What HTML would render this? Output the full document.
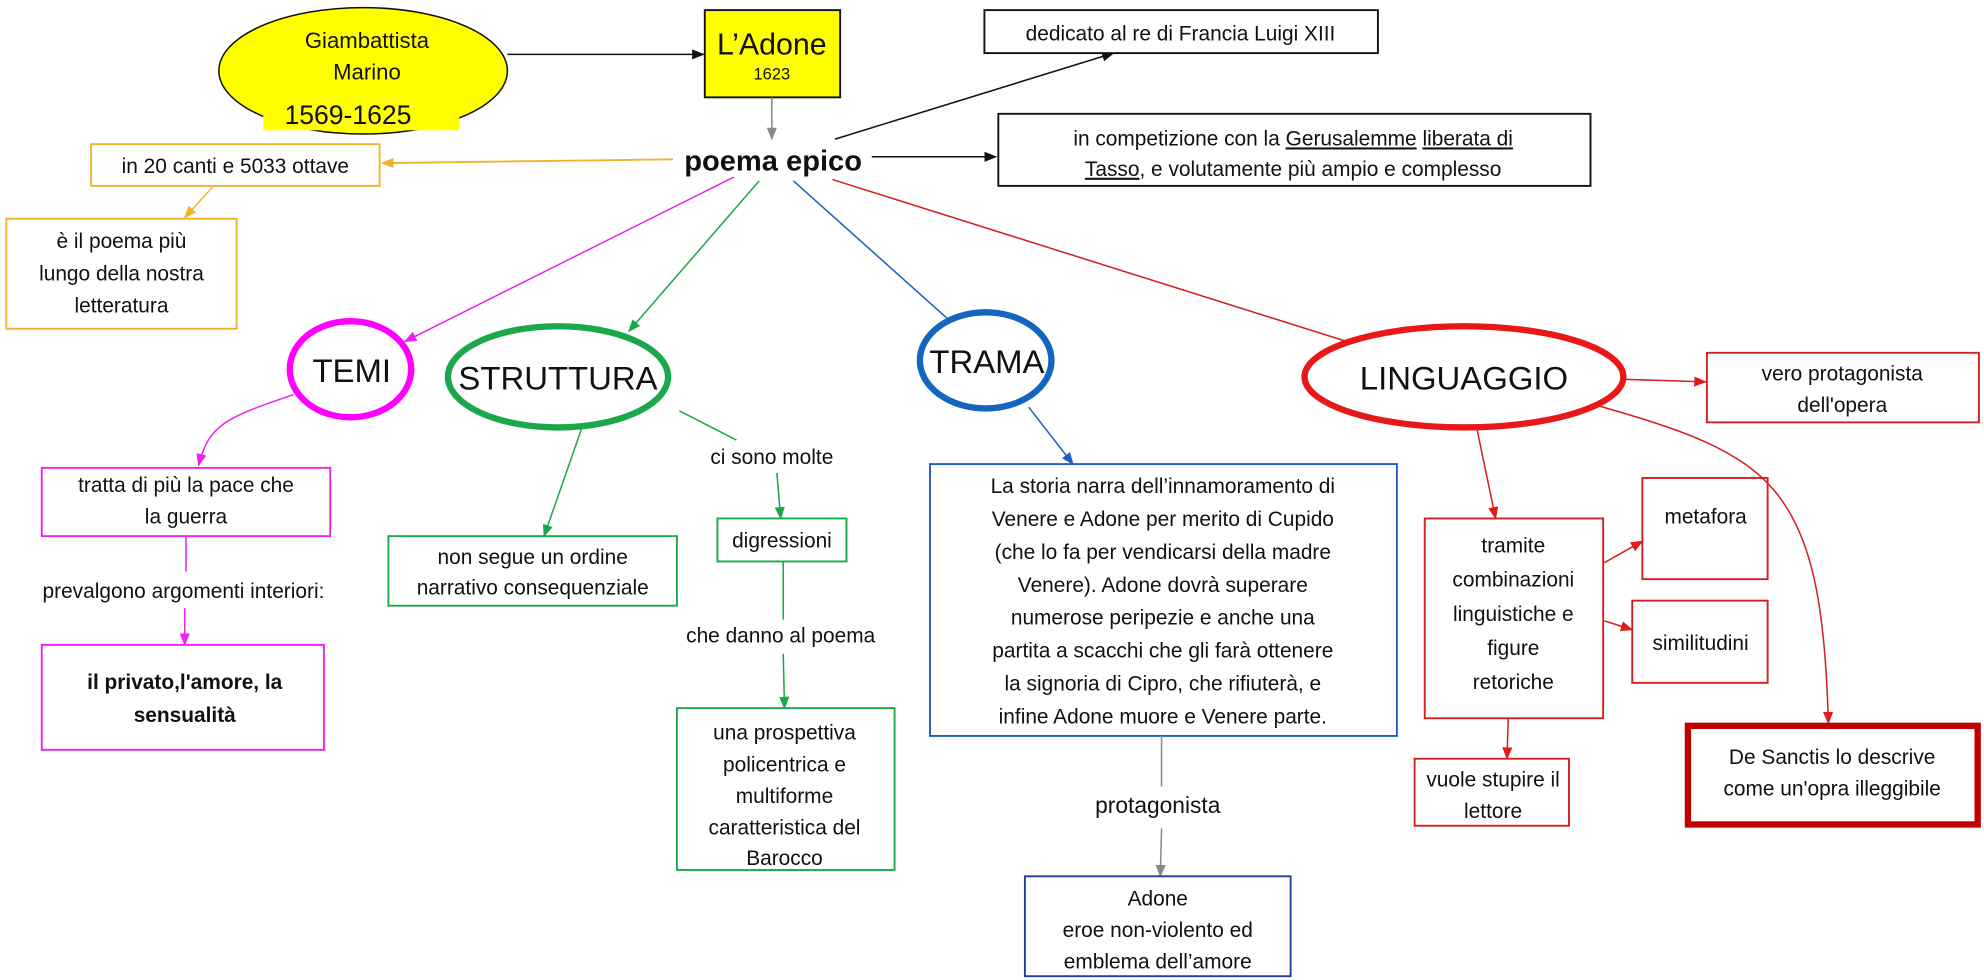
<!DOCTYPE html>
<html><head><meta charset="utf-8"><style>
html,body{margin:0;padding:0;background:#fff;}
svg{display:block;}
text{font-family:"Liberation Sans",sans-serif;font-size:16.5px;fill:#111;text-anchor:middle;}
</style></head><body>
<svg width="1984" height="980" viewBox="0 0 1568 775" preserveAspectRatio="none" xmlns="http://www.w3.org/2000/svg">
<defs>
<marker id="mk" markerWidth="10" markerHeight="10" refX="9" refY="5" orient="auto" markerUnits="userSpaceOnUse"><path d="M0,1 L10,5 L0,9 z" fill="#111"/></marker>
<marker id="mg" markerWidth="10" markerHeight="10" refX="9" refY="5" orient="auto" markerUnits="userSpaceOnUse"><path d="M0,1 L10,5 L0,9 z" fill="#888"/></marker>
<marker id="mo" markerWidth="10" markerHeight="10" refX="9" refY="5" orient="auto" markerUnits="userSpaceOnUse"><path d="M0,1 L10,5 L0,9 z" fill="#f0b429"/></marker>
<marker id="mm" markerWidth="10" markerHeight="10" refX="9" refY="5" orient="auto" markerUnits="userSpaceOnUse"><path d="M0,1 L10,5 L0,9 z" fill="#ee22ee"/></marker>
<marker id="mgr" markerWidth="10" markerHeight="10" refX="9" refY="5" orient="auto" markerUnits="userSpaceOnUse"><path d="M0,1 L10,5 L0,9 z" fill="#1aa84b"/></marker>
<marker id="mb" markerWidth="10" markerHeight="10" refX="9" refY="5" orient="auto" markerUnits="userSpaceOnUse"><path d="M0,1 L10,5 L0,9 z" fill="#1d5fc0"/></marker>
<marker id="mr" markerWidth="10" markerHeight="10" refX="9" refY="5" orient="auto" markerUnits="userSpaceOnUse"><path d="M0,1 L10,5 L0,9 z" fill="#e01b1b"/></marker>
</defs>

<!-- top -->
<ellipse cx="287" cy="56" rx="114" ry="50" fill="#ffff00" stroke="#111" stroke-width="1.2"/>
<rect x="208" y="76" width="155" height="27" fill="#ffff00"/>
<text x="290" y="38" style="font-size:17.5px">Giambattista</text>
<text x="290" y="63" style="font-size:17.5px">Marino</text>
<text x="275" y="98" style="font-size:21px">1569-1625</text>
<line x1="401" y1="43" x2="556" y2="43" stroke="#111" stroke-width="1.2" marker-end="url(#mk)"/>
<rect x="557" y="8" width="107" height="69" fill="#ffff00" stroke="#111" stroke-width="1.5"/>
<text x="610" y="43" style="font-size:24px">L’Adone</text>
<text x="610" y="63" style="font-size:13px">1623</text>
<line x1="610" y1="77" x2="610" y2="110" stroke="#888" stroke-width="1.2" marker-end="url(#mg)"/>
<text x="611" y="135" style="font-size:23px;font-weight:bold">poema epico</text>

<line x1="660" y1="110" x2="880" y2="42" stroke="#111" stroke-width="1.2" marker-end="url(#mk)"/>
<rect x="778" y="8" width="311" height="34" fill="#fff" stroke="#111" stroke-width="1.5"/>
<text x="933" y="32">dedicato al re di Francia Luigi XIII</text>
<line x1="689" y1="124" x2="787" y2="124" stroke="#111" stroke-width="1.2" marker-end="url(#mk)"/>
<rect x="789" y="90" width="468" height="57" fill="#fff" stroke="#111" stroke-width="1.5"/>
<text x="1022" y="115">in competizione con la <tspan text-decoration="underline">Gerusalemme</tspan> <tspan text-decoration="underline">liberata di</tspan></text>
<text x="1022" y="139"><tspan text-decoration="underline">Tasso</tspan>, e volutamente più ampio e complesso</text>

<line x1="532" y1="126" x2="302" y2="129" stroke="#f0b429" stroke-width="1.5" marker-end="url(#mo)"/>
<rect x="72" y="114" width="228" height="33" fill="#fff" stroke="#f0b429" stroke-width="1.5"/>
<text x="186" y="137">in 20 canti e 5033 ottave</text>
<line x1="168" y1="148" x2="146" y2="172" stroke="#f0b429" stroke-width="1.2" marker-end="url(#mo)"/>
<rect x="5" y="173" width="182" height="87" fill="#fff" stroke="#f0b429" stroke-width="1.5"/>
<text x="96" y="196">è il poema più</text>
<text x="96" y="222">lungo della nostra</text>
<text x="96" y="247">letteratura</text>

<!-- main branches -->
<line x1="580" y1="140" x2="320" y2="270" stroke="#ee22ee" stroke-width="1.2" marker-end="url(#mm)"/>
<line x1="600" y1="143" x2="497" y2="262" stroke="#1aa84b" stroke-width="1.2" marker-end="url(#mgr)"/>
<line x1="627" y1="143" x2="760" y2="262" stroke="#1d5fc0" stroke-width="1.2" marker-end="url(#mb)"/>
<line x1="658" y1="142" x2="1080" y2="275" stroke="#d42020" stroke-width="1.2" marker-end="url(#mr)"/>

<ellipse cx="277" cy="292" rx="48" ry="38" fill="#fff" stroke="#ff00ff" stroke-width="5"/>
<text x="278" y="302" style="font-size:26px">TEMI</text>
<ellipse cx="441" cy="298" rx="87" ry="40" fill="#fff" stroke="#1aa84b" stroke-width="5"/>
<text x="441" y="308" style="font-size:26px">STRUTTURA</text>
<ellipse cx="779" cy="285" rx="52" ry="38" fill="#fff" stroke="#1565c0" stroke-width="5"/>
<text x="780" y="295" style="font-size:26px">TRAMA</text>
<ellipse cx="1157" cy="298" rx="126" ry="40" fill="#fff" stroke="#e81818" stroke-width="5"/>
<text x="1157" y="308" style="font-size:26px">LINGUAGGIO</text>

<!-- TEMI -->
<path d="M232,312 C180,330 165,335 157,368" fill="none" stroke="#ee22ee" stroke-width="1.2" marker-end="url(#mm)"/>
<rect x="33" y="370" width="228" height="54" fill="#fff" stroke="#ee22ee" stroke-width="1.5"/>
<text x="147" y="389">tratta di più la pace che</text>
<text x="147" y="414">la guerra</text>
<line x1="147" y1="424" x2="147" y2="452" stroke="#ee22ee" stroke-width="1.2"/>
<text x="145" y="473">prevalgono argomenti interiori:</text>
<line x1="146" y1="481" x2="146" y2="510" stroke="#ee22ee" stroke-width="1.2" marker-end="url(#mm)"/>
<rect x="33" y="510" width="223" height="83" fill="#fff" stroke="#ee22ee" stroke-width="1.5"/>
<text x="146" y="545" style="font-weight:bold">il  privato,l'amore,  la</text>
<text x="146" y="571" style="font-weight:bold">sensualità</text>

<!-- STRUTTURA -->
<line x1="460" y1="338" x2="430" y2="424" stroke="#1aa84b" stroke-width="1.2" marker-end="url(#mgr)"/>
<rect x="307" y="424" width="228" height="55" fill="#fff" stroke="#1aa84b" stroke-width="1.5"/>
<text x="421" y="446">non segue un ordine</text>
<text x="421" y="470">narrativo consequenziale</text>
<line x1="537" y1="325" x2="582" y2="348" stroke="#1aa84b" stroke-width="1.2"/>
<text x="610" y="367">ci sono molte</text>
<line x1="614" y1="374" x2="617" y2="410" stroke="#1aa84b" stroke-width="1.2" marker-end="url(#mgr)"/>
<rect x="567" y="410" width="102" height="34" fill="#fff" stroke="#1aa84b" stroke-width="1.5"/>
<text x="618" y="433">digressioni</text>
<line x1="619" y1="444" x2="619" y2="490" stroke="#1aa84b" stroke-width="1.2"/>
<text x="617" y="508">che danno al poema</text>
<line x1="619" y1="517" x2="620" y2="560" stroke="#1aa84b" stroke-width="1.2" marker-end="url(#mgr)"/>
<rect x="535" y="560" width="172" height="128" fill="#fff" stroke="#1aa84b" stroke-width="1.5"/>
<text x="620" y="585">una prospettiva</text>
<text x="620" y="610">policentrica e</text>
<text x="620" y="635">multiforme</text>
<text x="620" y="660">caratteristica del</text>
<text x="620" y="684">Barocco</text>

<!-- TRAMA -->
<line x1="813" y1="322" x2="848" y2="367" stroke="#1d5fc0" stroke-width="1.2" marker-end="url(#mb)"/>
<rect x="735" y="367" width="369" height="215" fill="#fff" stroke="#1d5fc0" stroke-width="1.5"/>
<text x="919" y="390">La storia narra  dell’innamoramento  di</text>
<text x="919" y="416">Venere e Adone per merito di Cupido</text>
<text x="919" y="442">(che lo fa per vendicarsi della madre</text>
<text x="919" y="468">Venere). Adone dovrà superare</text>
<text x="919" y="494">numerose peripezie e anche una</text>
<text x="919" y="520">partita a scacchi che gli farà ottenere</text>
<text x="919" y="546">la signoria di Cipro, che rifiuterà, e</text>
<text x="919" y="572">infine Adone muore e Venere parte.</text>
<line x1="918" y1="582" x2="918" y2="622" stroke="#888" stroke-width="1.2"/>
<text x="915" y="643" style="font-size:18px">protagonista</text>
<line x1="918" y1="655" x2="917" y2="693" stroke="#888" stroke-width="1.2" marker-end="url(#mg)"/>
<rect x="810" y="693" width="210" height="79" fill="#fff" stroke="#1d3fa0" stroke-width="1.5"/>
<text x="915" y="716">Adone</text>
<text x="915" y="741">eroe non-violento ed</text>
<text x="915" y="766">emblema  dell’amore</text>

<!-- LINGUAGGIO -->
<line x1="1285" y1="300" x2="1348" y2="302" stroke="#d42020" stroke-width="1.2" marker-end="url(#mr)"/>
<rect x="1349" y="279" width="215" height="55" fill="#fff" stroke="#d42020" stroke-width="1.5"/>
<text x="1456" y="301">vero protagonista</text>
<text x="1456" y="326">dell'opera</text>
<line x1="1167" y1="338" x2="1182" y2="410" stroke="#d42020" stroke-width="1.2" marker-end="url(#mr)"/>
<rect x="1126" y="410" width="141" height="158" fill="#fff" stroke="#d42020" stroke-width="1.5"/>
<text x="1196" y="437">tramite</text>
<text x="1196" y="464">combinazioni</text>
<text x="1196" y="491">linguistiche e</text>
<text x="1196" y="518">figure</text>
<text x="1196" y="545">retoriche</text>
<line x1="1268" y1="445" x2="1298" y2="428" stroke="#d42020" stroke-width="1.2" marker-end="url(#mr)"/>
<rect x="1298" y="378" width="99" height="80" fill="#fff" stroke="#d42020" stroke-width="1.5"/>
<text x="1348" y="414">metafora</text>
<line x1="1268" y1="491" x2="1290" y2="498" stroke="#d42020" stroke-width="1.2" marker-end="url(#mr)"/>
<rect x="1290" y="475" width="107" height="65" fill="#fff" stroke="#d42020" stroke-width="1.5"/>
<text x="1344" y="514">similitudini</text>
<line x1="1192" y1="568" x2="1191" y2="600" stroke="#d42020" stroke-width="1.2" marker-end="url(#mr)"/>
<rect x="1118" y="600" width="122" height="53" fill="#fff" stroke="#d42020" stroke-width="1.5"/>
<text x="1180" y="622">vuole stupire il</text>
<text x="1180" y="647">lettore</text>
<path d="M1260,320 C1400,360 1440,380 1445,572" fill="none" stroke="#d42020" stroke-width="1.2" marker-end="url(#mr)"/>
<rect x="1334" y="574" width="229" height="78" fill="#fff" stroke="#c00000" stroke-width="5"/>
<text x="1448" y="604">De Sanctis lo descrive</text>
<text x="1448" y="629">come un'opra  illeggibile</text>
</svg>
</body></html>
